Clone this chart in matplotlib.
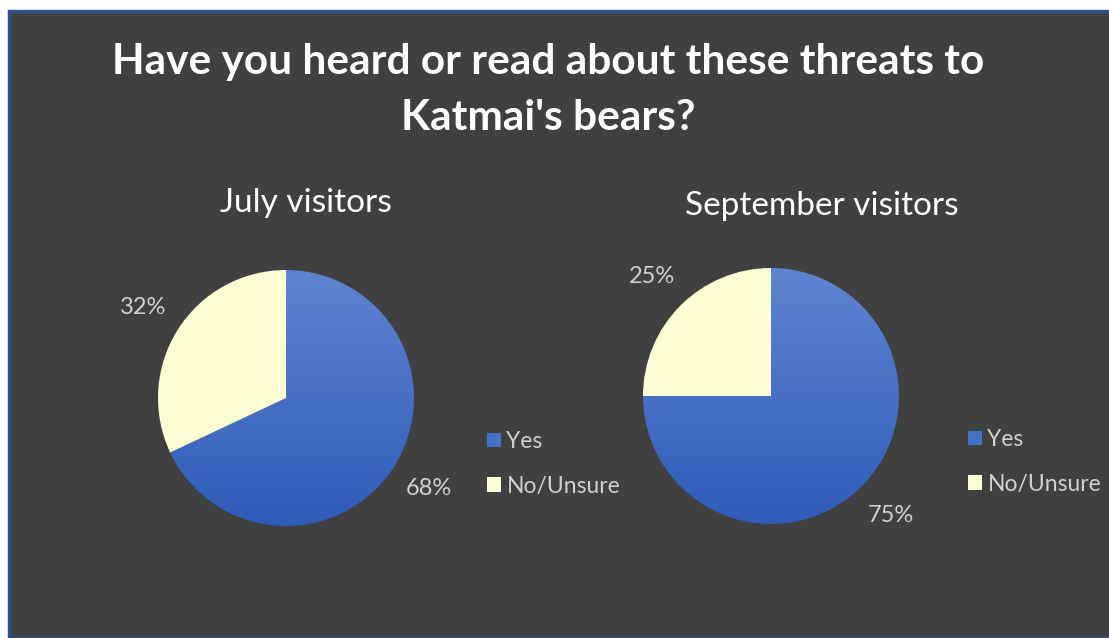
import numpy as np
import matplotlib.pyplot as plt
from matplotlib.patches import Rectangle, Patch
from matplotlib.colors import LinearSegmentedColormap

W, H = 1109, 638
DPI = 100

TITLE_LINES = ["Have you heard or read about these threats to", "Katmai's bears?"]
CATEGORIES = ["Yes", "No/Unsure"]
PANEL_TITLES = ["July visitors", "September visitors"]
JULY = [68, 32]
SEPTEMBER = [75, 25]

BG = "#404040"
BORDER = "#2F528F"
BLUE = "#4472C4"
CREAM = "#FFFFD5"
LABEL_GRAY = "#D0D0D0"
FONT = "Lato"

blue_grad = LinearSegmentedColormap.from_list("blue_grad", ["#2E5CB8", "#5F84D0"])


def px_axes(fig, cx, cy, r):
    # axes box in pixel units, origin at top-left
    return fig.add_axes([(cx - r) / W, 1 - (cy + r) / H, 2 * r / W, 2 * r / H])


def draw_pie(fig, values, cx, cy, r, title, title_xy, legend_xy):
    ax = px_axes(fig, cx, cy, r)
    ax.patch.set_visible(False)
    wedges, _, autotexts = ax.pie(
        values, colors=[BLUE, CREAM], startangle=90, counterclock=False,
        autopct="%1.0f%%", pctdistance=1.32,
        textprops=dict(color=LABEL_GRAY, fontsize=17, family=FONT),
        wedgeprops=dict(linewidth=0),
    )
    for t in autotexts:
        t.set_clip_on(False)

    # vertical gradient on the "Yes" slice
    wedges[0].set_facecolor("none")
    grad = np.linspace(0, 1, 256).reshape(-1, 1)
    im = ax.imshow(grad, extent=[-1, 1, -1, 1], origin="lower", cmap=blue_grad,
                   aspect="auto", zorder=0.5)
    im.set_clip_path(wedges[0])
    ax.set_xlim(-1, 1)
    ax.set_ylim(-1, 1)
    ax.set_aspect("equal")
    ax.axis("off")

    fig.text(title_xy[0] / W, 1 - title_xy[1] / H, title, color="white",
             fontsize=24, family=FONT, ha="center", va="center")

    handles = [Patch(facecolor=BLUE, edgecolor="none"),
               Patch(facecolor=CREAM, edgecolor="none")]
    fig.legend(handles, CATEGORIES, loc="upper left",
               bbox_to_anchor=(legend_xy[0] / W, 1 - legend_xy[1] / H),
               frameon=False, labelcolor=LABEL_GRAY,
               prop=dict(family=FONT, size=16.5),
               handlelength=0.6, handleheight=0.6, handletextpad=0.25,
               labelspacing=1.03, borderpad=0, borderaxespad=0)


fig = plt.figure(figsize=(W / DPI, H / DPI), dpi=DPI, facecolor="white")

# dark chart area with blue frame on top/left
fig.patches.append(Rectangle((8.5 / W, 0), 1, 1 - 10.5 / H, transform=fig.transFigure,
                             facecolor=BG, edgecolor=BORDER, linewidth=2.5, zorder=-1))

for line, y in zip(TITLE_LINES, [62, 118]):
    fig.text(548 / W, 1 - y / H, line, color="white", fontsize=30.5, fontweight="bold",
             family=FONT, ha="center", va="center")

draw_pie(fig, JULY, 286, 398, 128, PANEL_TITLES[0], (306, 203), (487, 431))
draw_pie(fig, SEPTEMBER, 771, 396, 128, PANEL_TITLES[1], (822, 206), (968, 429))

fig.savefig("out.png", dpi=DPI, facecolor=fig.get_facecolor())
